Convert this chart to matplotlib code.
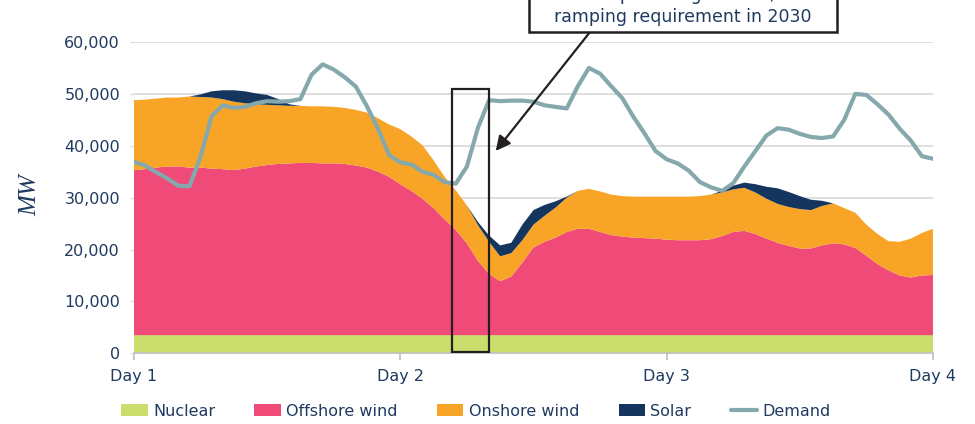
import matplotlib
matplotlib.use('Agg')
import matplotlib.pyplot as plt
from matplotlib.patches import Rectangle
from matplotlib.ticker import FuncFormatter

# hourly values over three days (MW)
hours = list(range(73))

nuclear = [3500, 3500, 3500, 3500, 3500, 3500, 3500, 3500, 3500, 3500,
           3500, 3500, 3500, 3500, 3500, 3500, 3500, 3500, 3500, 3500,
           3500, 3500, 3500, 3500, 3500, 3500, 3500, 3500, 3500, 3500,
           3500, 3500, 3500, 3500, 3500, 3500, 3500, 3500, 3500, 3500,
           3500, 3500, 3500, 3500, 3500, 3500, 3500, 3500, 3500, 3500,
           3500, 3500, 3500, 3500, 3500, 3500, 3500, 3500, 3500, 3500,
           3500, 3500, 3500, 3500, 3500, 3500, 3500, 3500, 3500, 3500,
           3500, 3500, 3500]

offshore = [31800, 32000, 32300, 32500, 32500, 32300, 32300, 32100, 32000, 31800,
            32100, 32500, 32800, 33000, 33100, 33200, 33200, 33100, 33100, 33000,
            32700, 32300, 31500, 30500, 29100, 27800, 26300, 24500, 22300, 20300,
            17700, 14300, 11800, 10400, 11300, 14000, 16900, 18000, 18800, 19900,
            20500, 20500, 19900, 19300, 19000, 18800, 18700, 18600, 18400, 18300,
            18300, 18300, 18500, 19100, 19900, 20100, 19500, 18600, 17800, 17200,
            16700, 16700, 17300, 17700, 17500, 16800, 15300, 13700, 12500, 11500,
            11100, 11500, 11600]

onshore = [13500, 13400, 13300, 13300, 13300, 13700, 13600, 13700, 13500, 13200,
           12600, 12000, 11600, 11300, 11100, 11000, 10900, 11000, 10900, 10800,
           10700, 10600, 10300, 10100, 10600, 10500, 10300, 9200, 8200, 7600,
           7300, 6900, 6200, 4800, 4500, 4300, 4400, 5000, 5800, 6600,
           7300, 7700, 7800, 7800, 7800, 7900, 8000, 8100, 8300, 8400,
           8400, 8500, 8600, 8400, 8200, 8300, 8000, 7700, 7500, 7500,
           7600, 7400, 7600, 7700, 7000, 6800, 6000, 5800, 5600, 6500,
           7500, 8200, 8900]

solar = [0, 0, 0, 0, 0, 0, 500, 1200, 1700, 2200,
         2300, 2100, 1900, 1200, 300, 0, 0, 0, 0, 0,
         0, 0, 0, 0, 0, 0, 0, 0, 0, 0,
         0, 600, 1200, 2100, 2000, 3000, 2800, 2100, 1200, 200,
         0, 0, 0, 0, 0, 0, 0, 0, 0, 0,
         0, 0, 0, 300, 700, 1000, 1600, 2300, 3000, 2900,
         2500, 2000, 1000, 0, 0, 0, 0, 0, 0, 0,
         0, 0, 0]

demand = [36900, 36200, 34900, 33700, 32300, 32200, 37900, 45700, 47800, 47300,
          47500, 48200, 48600, 48500, 48600, 49000, 53700, 55700, 54700, 53200,
          51400, 47600, 43200, 38200, 36800, 36400, 35000, 34400, 33000, 32700,
          36000, 43500, 48800, 48600, 48700, 48700, 48500, 47800, 47500, 47200,
          51500, 55000, 53900, 51500, 49200, 45600, 42400, 39000, 37400, 36600,
          35200, 33000, 32000, 31300, 32800, 36000, 39000, 42000, 43400, 43100,
          42300, 41700, 41500, 41800, 45000, 50000, 49800, 48000, 46000, 43300,
          41000, 38000, 37500]

series_labels = ['Nuclear', 'Offshore wind', 'Onshore wind', 'Solar']
series_colors = ['#cbdd6c', '#ef4a78', '#f8a527', '#14365e']
demand_color = '#85a8ac'

day_ticks = [0, 24, 48, 72]
day_labels = ['Day 1', 'Day 2', 'Day 3', 'Day 4']

ramp_start, ramp_end = 28.7, 32.0   # highlighted hours
ramp_low, ramp_high = 350, 50900

navy = '#1f3a60'
dark = '#231f20'

fig = plt.figure(figsize=(9.75, 4.24), dpi=100)
ax = fig.add_axes([0.1374, 0.1667, 0.8195, 0.7342])

ax.stackplot(hours, nuclear, offshore, onshore, solar, colors=series_colors,
             labels=series_labels, linewidth=0, zorder=2)
ax.plot(hours, demand, color=demand_color, lw=3.0, solid_capstyle='round',
        solid_joinstyle='round', label='Demand', zorder=3)

ax.set_xlim(0, 72)
ax.set_ylim(0, 60000)
ax.set_xticks(day_ticks)
ax.set_xticklabels(day_labels)
ax.set_yticks(range(0, 60001, 10000))
ax.yaxis.set_major_formatter(FuncFormatter(lambda v, p: f'{int(v):,}'))
ax.grid(axis='y', color='#d9d9d9', lw=1.2)
ax.set_axisbelow(True)
for s in ['top', 'right', 'left']:
    ax.spines[s].set_visible(False)
ax.spines['bottom'].set_color('#bfbfbf')
ax.spines['bottom'].set_linewidth(1.2)
ax.tick_params(axis='y', length=3, color='#d9d9d9', pad=7, labelsize=11.5, labelcolor=navy)
ax.tick_params(axis='x', length=5, width=1.2, color='#bfbfbf', pad=6, labelsize=11.5,
               labelcolor=navy)

fig.text(30 / 975, 1 - 195 / 424, 'MW', rotation=90, family='Liberation Serif',
         style='italic', fontsize=18, color=navy, ha='center', va='center')

# ramp highlight box
ax.add_patch(Rectangle((ramp_start, ramp_low), ramp_end - ramp_start, ramp_high - ramp_low,
                       fill=False, ec=dark, lw=1.6, zorder=5))

# callout (clipped at the top of the figure, as in the original)
fig.add_artist(Rectangle((529 / 975, 1 - 32 / 424), 308 / 975, 0.2,
                         transform=fig.transFigure, fc='white', ec=dark, lw=1.8,
                         clip_on=False, zorder=6))
fig.text(683 / 975, 1 - 26 / 424, 'Example of high 10GW/hr\nramping requirement in 2030',
         ha='center', va='bottom', fontsize=12.5, color=navy, linespacing=1.25, zorder=7)
ax.annotate('', xy=(32.6, 39000), xycoords='data',
            xytext=(590 / 975, 1 - 32 / 424), textcoords='figure fraction',
            arrowprops=dict(arrowstyle='-|>', color=dark, lw=1.6, shrinkA=0, shrinkB=0,
                            mutation_scale=22), zorder=6)

handles, labels = ax.get_legend_handles_labels()
fig.legend(handles, labels, loc='center', bbox_to_anchor=(476 / 975, 1 - 411 / 424),
           ncol=5, frameon=False, fontsize=11.5, handlelength=1.65, handleheight=0.75,
           handletextpad=0.35, columnspacing=2.45, labelcolor=navy)

fig.savefig('out.png', dpi=100)
